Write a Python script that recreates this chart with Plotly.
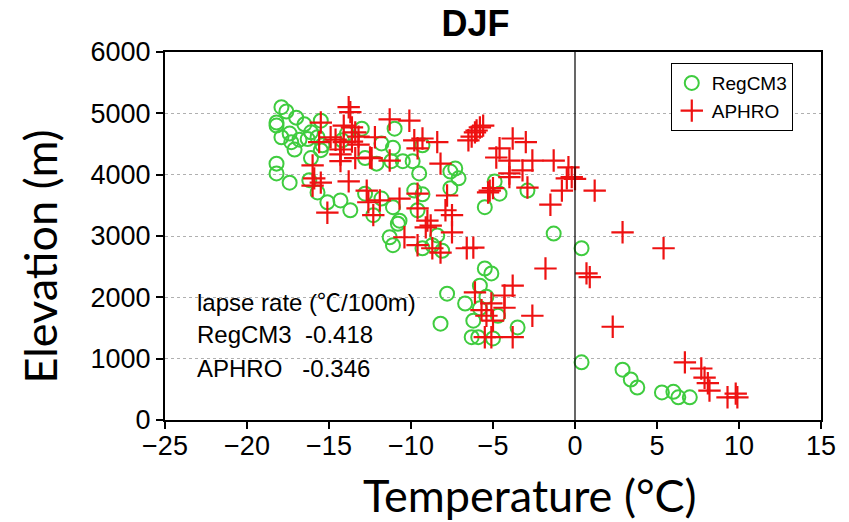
import plotly.graph_objects as go

# RegCM3 (green circles): temperature (°C), elevation (m)
regcm_temp = [-17.9, -17.6, -17.0, -18.2, -18.2, -16.5, -15.5,
              -17.9, -17.4, -17.3, -17.1, -16.8, -16.3, -16.1, -15.7, -15.4, -15.5, -16.1,
              -18.2, -18.2, -17.4, -16.2, -15.7, -15.1, -14.3, -13.7,
              -13.9, -14.2, -13.0, -12.8, -12.1, -11.8, -11.0, -11.1, -11.2, -10.5, -9.9, -9.5, -9.3,
              -12.8, -12.3, -11.8, -11.1, -10.7, -10.8, -9.8, -9.3, -9.6,
              -11.3, -11.1,
              -7.6, -7.3, -7.1, -7.6, -4.9, -4.6, -5.5, -2.9,
              -9.3, -8.7, -8.1, -8.4,
              -1.3, 0.4,
              -5.5, -5.1, -5.8, -7.8, -6.7, -5.4, -5.8, -6.2, -6.3, -5.9, -5.0, -4.7, -3.5, -8.2,
              0.4, 2.9, 3.4, 3.8, 5.3, 6.0, 6.3, 7.0]
regcm_elev = [5100, 5030, 4930, 4850, 4800, 4820, 4880,
              4610, 4670, 4530, 4410, 4570, 4580, 4690, 4610, 4480, 4400, 4270,
              4180, 4020, 3870, 3910, 3710, 3550, 3580, 3420,
              4670, 4560, 4750, 4270, 4180, 4510, 4750, 4440, 4220, 4220, 4220, 4020, 4480,
              3690, 3340, 3610, 3470, 3250, 3200, 3740, 3680, 3420,
              2980, 2850,
              4050, 4100, 3940, 3780, 3890, 3690, 3470, 3740,
              2800, 2850, 2760, 3010,
              3040, 2800,
              2470, 2390, 2190, 2060, 1900, 2010, 1820, 1620, 1350, 1350, 1330, 1700, 1510, 1570,
              940, 820, 660, 530, 450, 460, 370, 370]

# APHRO (red crosses): temperature (°C), elevation (m)
aphro_temp = [-13.8, -13.7, -15.5, -14.1, -13.6, -15.6, -14.9, -14.6, -14.1, -13.6, -13.2, -13.2,
              -14.3, -14.3, -14.3, -13.4, -12.2, -12.4, -11.3, -16.0, -15.9, -16.0, -15.5, -13.8, -15.1,
              -10.1, -13.4, -9.8, -9.3, -9.6, -8.4, -8.2, -11.3, -12.5,
              -6.5, -6.3, -6.1, -6.0, -5.8, -5.6,
              -3.8, -3.0, -4.6, -4.8, -4.0, -2.6, -1.3, -0.4, -0.2, -0.5, 0.0, -3.2, -4.0, -4.0,
              -5.2, -5.3, -5.0, -2.9, -0.8, -1.5, 1.2,
              -12.7, -12.6, -11.9, -10.7, -9.6, -9.6, -12.3, -7.8, -7.9, -7.5, -9.0, -8.8, -9.1, -7.5,
              -10.4, -9.6, -8.7, -8.2, -6.6, -6.2,
              -1.8, 0.7, 0.9, 2.9, 5.4,
              -6.1, -3.8, -4.3, -4.3, -5.1, -5.7, -5.4, -5.0, -5.5, -5.1, -3.8, -2.6,
              2.3, 6.7, 7.7, 7.9, 8.1, 8.2, 9.3, 9.8, 9.9]
aphro_elev = [5100, 5020, 4850, 4800, 4770, 4530, 4610, 4570, 4530, 4540, 4620, 4490,
              4410, 4330, 4220, 4270, 4610, 4270, 4900, 4150, 3940, 3820, 3870, 3890, 3380,
              4880, 4690, 4560, 4590, 4430, 4530, 4180, 4230, 4280,
              4560, 4620, 4690, 4720, 4770, 4800,
              4590, 4530, 4430, 4280, 4230, 4230, 4230, 4120, 3960, 3940, 3930, 4070, 4020, 3960,
              3740, 3710, 3780, 3790, 3740, 3510, 3740,
              3740, 3550, 3580, 3610, 3690, 3450, 3340, 3660, 3420, 3340, 3250, 3170, 3140, 3060,
              2980, 2850, 2800, 2730, 2800, 2810,
              2470, 2390, 2330, 3060, 2800,
              2080, 2190, 2030, 1830, 1900, 1790, 1700, 1620, 1350, 1350, 1350, 1700,
              1520, 940, 840, 690, 600, 480, 370, 430, 370]

x_ticks = [-25, -20, -15, -10, -5, 0, 5, 10, 15]
y_ticks = [0, 1000, 2000, 3000, 4000, 5000, 6000]
rate_lines = ["lapse rate (℃/100m)", "RegCM3  -0.418", "APHRO   -0.346"]

fig = go.Figure()
fig.add_trace(go.Scatter(
    x=regcm_temp, y=regcm_elev, mode="markers", name="RegCM3",
    marker=dict(symbol="circle-open", size=14, color="#3fcc3f", line=dict(width=2, color="#3fcc3f")),
))
fig.add_trace(go.Scatter(
    x=aphro_temp, y=aphro_elev, mode="markers", name="APHRO",
    marker=dict(symbol="cross-thin", size=16, color="#ee1111", line=dict(width=2.2, color="#ee1111")),
))

fig.add_vline(x=0, line=dict(color="black", width=1.2))

axis_common = dict(
    showline=True, linecolor="black", linewidth=2, mirror=True,
    ticks="outside", ticklen=7, tickwidth=2, tickcolor="black",
    tickfont=dict(family="Liberation Sans, Arial", size=27, color="black"),
    zeroline=False,
)
fig.update_xaxes(range=[-25, 15], tickvals=x_ticks, showgrid=False, ticklabelstandoff=-6, **axis_common)
fig.update_yaxes(range=[0, 6000], tickvals=y_ticks, showgrid=True, gridcolor="#b0b0b0",
                 griddash="dot", gridwidth=1, **axis_common)

ann_y = [0.318, 0.232, 0.140]
for txt, yy in zip(rate_lines, ann_y):
    fig.add_annotation(text=txt, xref="paper", yref="paper", x=0.046, y=yy,
                       xanchor="left", yanchor="middle", showarrow=False,
                       font=dict(family="Liberation Sans, Noto Sans CJK SC", size=24, color="black"))

fig.add_annotation(text="Elevation (m)", xref="paper", yref="paper", x=-0.19, y=0.445,
                   textangle=-90, showarrow=False, xanchor="center", yanchor="middle",
                   font=dict(family="Lato", size=45, color="black"))
fig.add_annotation(text="Temperature (°C)", xref="paper", yref="paper", x=0.556, y=-0.205,
                   showarrow=False, xanchor="center", yanchor="middle",
                   font=dict(family="Lato", size=45, color="black"))

fig.update_layout(
    width=849, height=522,
    margin=dict(l=165, r=28, t=52, b=102),
    paper_bgcolor="white", plot_bgcolor="white",
    title=dict(text="<b>DJF</b>", x=0.56, xanchor="center", y=0.955, yanchor="middle",
               font=dict(family="Liberation Sans, Arial", size=36, color="black")),
    legend=dict(x=0.771, y=0.97, xanchor="left", yanchor="top",
                bordercolor="black", borderwidth=1, bgcolor="white",
                font=dict(family="Liberation Sans, Arial", size=19, color="black"),
                itemwidth=30, tracegroupgap=0),
    showlegend=True,
)

fig.write_html("out.html")
